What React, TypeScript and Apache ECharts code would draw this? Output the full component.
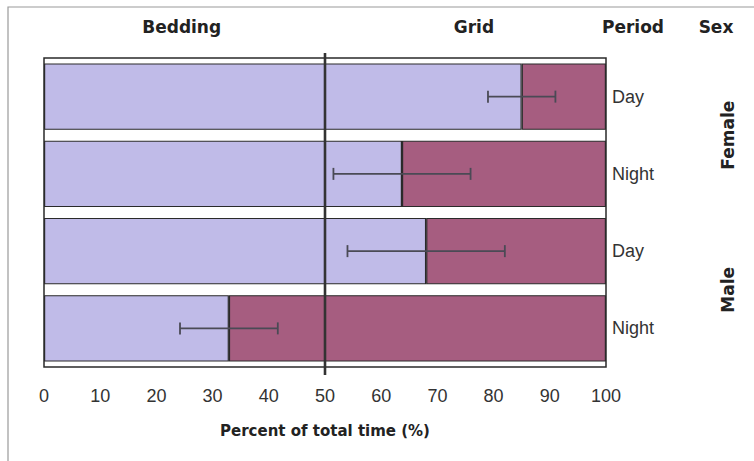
import React, { useEffect, useRef } from "react";
import * as echarts from "echarts";

const rowKeys = ["Female-Day", "Female-Night", "Male-Day", "Male-Night"];
const periodLabels = ["Day", "Night", "Day", "Night"];
const sexLabels = ["Female", "Male"];
const beddingPct = [85, 63.7, 68, 32.9];
const gridPct = [15, 36.3, 32, 67.1];
const errorPct = [6, 12.2, 14, 8.7];
const headerLabels = ["Bedding", "Grid", "Period", "Sex"];
const xTitle = "Percent of total time (%)";
const dividerValue = 50;

const LAVENDER = "#c0bbe8";
const ROSE = "#a65d80";
const DARK = "#2a2a2a";

export default function App() {
  const ref = useRef<HTMLDivElement>(null);
  useEffect(() => {
    document.body.style.margin = "0";
    const chart = echarts.init(ref.current!, null, { renderer: "svg" });
    const errData = beddingPct.map((m, i) => [m - errorPct[i], m + errorPct[i], rowKeys[i]]);
    chart.setOption({
      animation: false,
      backgroundColor: "#ffffff",
      grid: {
        left: 44,
        right: 148,
        top: 58,
        bottom: 94,
        show: true,
        borderColor: DARK,
        borderWidth: 1.5,
        backgroundColor: "transparent",
      },
      xAxis: {
        type: "value",
        min: 0,
        max: 100,
        interval: 10,
        splitLine: { show: false },
        axisLine: { show: false },
        axisTick: { show: false },
        axisLabel: {
          margin: 20,
          fontSize: 18,
          color: "#333",
          fontFamily: "Liberation Sans, Arial, sans-serif",
        },
        name: xTitle,
        nameLocation: "middle",
        nameGap: 56,
        nameTextStyle: {
          fontSize: 15,
          fontWeight: "bold",
          color: "#222",
          fontFamily: "DejaVu Sans, sans-serif",
        },
      },
      yAxis: [
        {
          type: "category",
          data: rowKeys,
          inverse: true,
          position: "right",
          axisLine: { show: false },
          axisTick: { show: false },
          splitLine: { show: false },
          axisLabel: {
            margin: 6,
            fontSize: 18,
            color: "#333",
            fontFamily: "Liberation Sans, Arial, sans-serif",
            formatter: (_v: string, i: number) => periodLabels[i],
          },
        },
        {
          type: "category",
          data: sexLabels,
          inverse: true,
          position: "right",
          axisLine: { show: false },
          axisTick: { show: false },
          splitLine: { show: false },
          axisLabel: {
            margin: 113,
            rotate: 90,
            fontSize: 17,
            fontWeight: "bold",
            color: "#222",
            fontFamily: "DejaVu Sans, sans-serif",
          },
        },
      ],
      series: [
        {
          name: "Bedding",
          type: "bar",
          stack: "t",
          barWidth: "86%",
          data: beddingPct,
          itemStyle: { color: LAVENDER, borderColor: DARK, borderWidth: 1.2 },
        },
        {
          name: "Grid",
          type: "bar",
          stack: "t",
          barWidth: "86%",
          data: gridPct,
          itemStyle: { color: ROSE, borderColor: DARK, borderWidth: 1.2 },
        },
        {
          name: "SE",
          type: "custom",
          data: errData,
          encode: { x: [0, 1], y: 2 },
          z: 5,
          renderItem: (_p: any, api: any) => {
            const cat = api.value(2);
            const a = api.coord([api.value(0), cat]);
            const b = api.coord([api.value(1), cat]);
            const h = 6;
            const style = { stroke: "#4a4a55", lineWidth: 1.8 };
            return {
              type: "group",
              children: [
                { type: "line", shape: { x1: a[0], y1: a[1], x2: b[0], y2: b[1] }, style },
                { type: "line", shape: { x1: a[0], y1: a[1] - h, x2: a[0], y2: a[1] + h }, style },
                { type: "line", shape: { x1: b[0], y1: b[1] - h, x2: b[0], y2: b[1] + h }, style },
              ],
            };
          },
        },
      ],
    });
    const xDiv = chart.convertToPixel({ xAxisIndex: 0 }, dividerValue) as number;
    const xBed = chart.convertToPixel({ xAxisIndex: 0 }, 24.5) as number;
    const xGrid = chart.convertToPixel({ xAxisIndex: 0 }, 76.5) as number;
    const headerStyle = {
      fontSize: 17,
      fontWeight: "bold",
      fill: "#222",
      fontFamily: "DejaVu Sans, sans-serif",
      align: "center",
      verticalAlign: "middle",
    };
    chart.setOption({
      graphic: [
        {
          type: "rect",
          shape: { x: 8, y: 7, width: 900, height: 600 },
          style: { fill: "none", stroke: "#9a9a9a", lineWidth: 1.2 },
          silent: true,
        },
        {
          type: "line",
          shape: { x1: xDiv, y1: 53, x2: xDiv, y2: 375 },
          style: { stroke: "#333", lineWidth: 2.6 },
          z: 10,
        },
        { type: "text", x: xBed, y: 27, style: { ...headerStyle, text: headerLabels[0] } },
        { type: "text", x: xGrid, y: 27, style: { ...headerStyle, text: headerLabels[1] } },
        { type: "text", x: 633, y: 27, style: { ...headerStyle, text: headerLabels[2] } },
        { type: "text", x: 716, y: 27, style: { ...headerStyle, text: headerLabels[3] } },
      ],
    });
    return () => chart.dispose();
  }, []);
  return <div ref={ref} style={{ width: 754, height: 461 }} />;
}
